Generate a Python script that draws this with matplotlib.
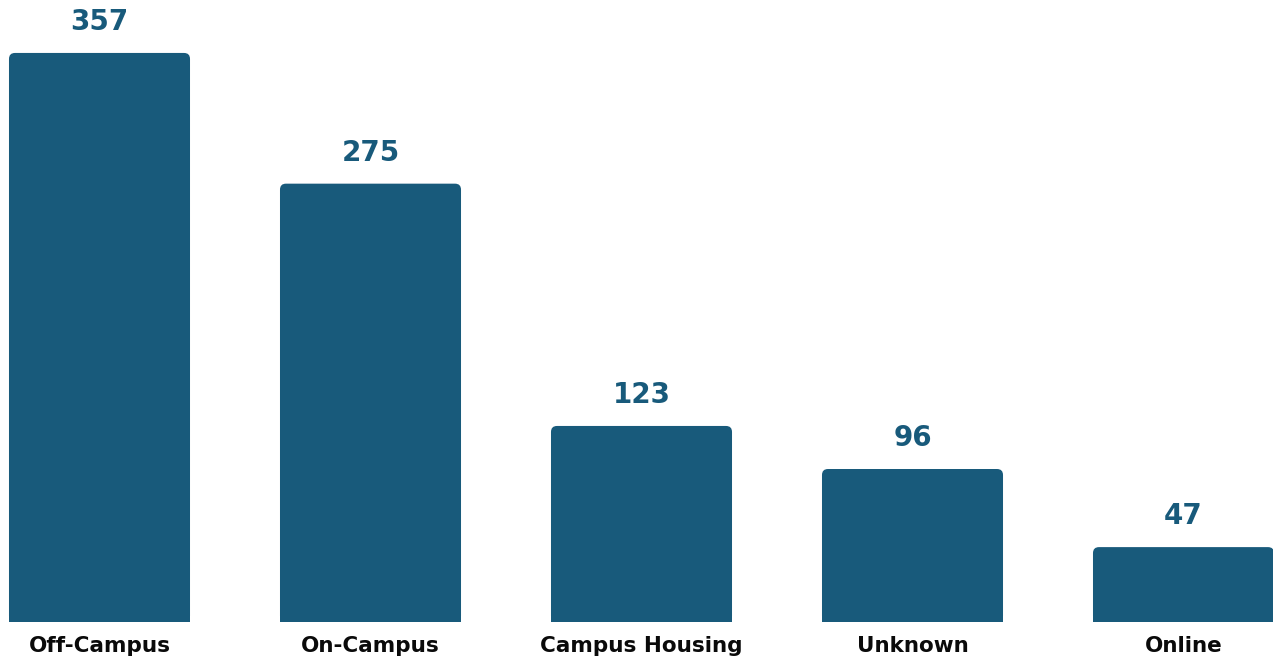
import matplotlib
matplotlib.use("Agg")
import matplotlib.pyplot as plt
from matplotlib.patches import FancyBboxPatch

categories = ["Off-Campus", "On-Campus", "Campus Housing", "Unknown", "Online"]
counts = [357, 275, 123, 96, 47]

bar_color = "#185a7b"
plt.rcParams['font.family'] = ['DejaVu Sans']

fig = plt.figure(figsize=(12.73, 6.59), dpi=100)
ax = fig.add_axes([0, 0.0561, 1, 0.9439])

x = list(range(len(categories)))
bars = ax.bar(x, counts, width=0.668, color=bar_color, linewidth=0)

# rounded top corners: swap each bar for a rounded box plus a square bottom half
r_px = 6
x_per_px = 1 / 271
y_per_px = 1 / 1.594
for b in bars:
    bx, bw, bh = b.get_x(), b.get_width(), b.get_height()
    b.set_visible(False)
    rs = r_px * x_per_px
    ax.add_patch(FancyBboxPatch((bx, 0), bw, bh,
                                boxstyle=f"round,pad=0,rounding_size={rs}",
                                mutation_aspect=y_per_px / x_per_px,
                                color=bar_color, linewidth=0))
    ax.add_patch(plt.Rectangle((bx, 0), bw, bh / 2, color=bar_color, linewidth=0))
    ax.annotate(f"{int(bh)}", (bx + bw / 2, bh), xytext=(0, 16.5),
                textcoords="offset points", ha="center", va="baseline",
                fontsize=20, fontweight="bold", color=bar_color)

ax.set_xlim(-99.5 / 271, (1273 - 99.5) / 271)
ax.set_ylim(0, 622 / 1.594)
ax.set_xticks(x)
ax.set_xticklabels(categories, fontsize=15.5, fontweight="bold", color="#0a0a0a")
ax.tick_params(axis="x", length=0, pad=10)
ax.set_yticks([])
for s in ax.spines.values():
    s.set_visible(False)

plt.savefig("out.png", dpi=100)
